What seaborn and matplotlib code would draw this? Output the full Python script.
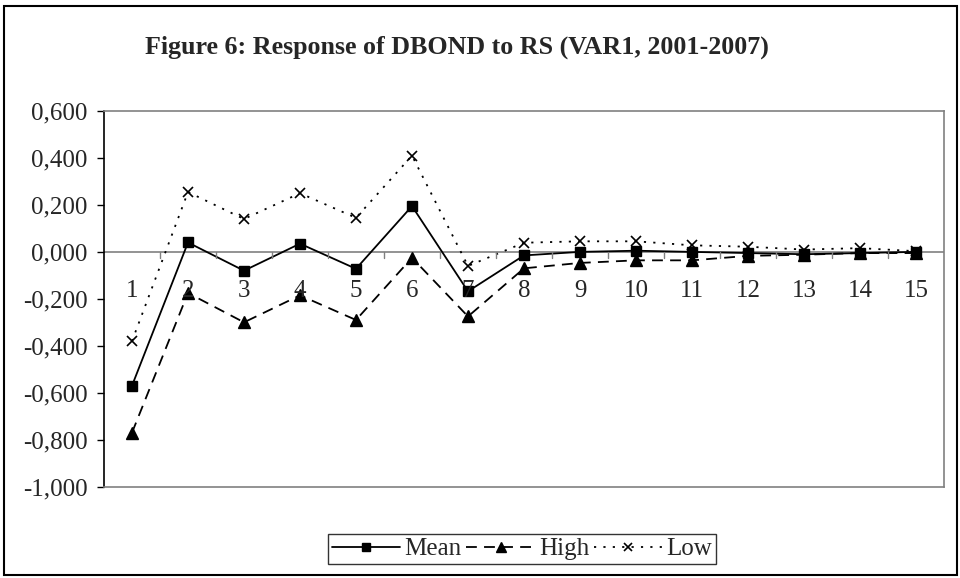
import numpy as np
import pandas as pd
import matplotlib
matplotlib.use('Agg')
import matplotlib.pyplot as plt
import seaborn as sns
from matplotlib.ticker import FuncFormatter, FixedLocator
from matplotlib.patches import Rectangle
from matplotlib.lines import Line2D

# Data
periods = list(range(1, 16))
mean_vals = [-0.570, 0.040, -0.080, 0.035, -0.072, 0.195, -0.168, -0.015,
             0.000, 0.005, 0.000, -0.005, -0.010, -0.005, 0.000]
high_vals = [-0.770, -0.175, -0.300, -0.185, -0.290, -0.025, -0.275, -0.070,
             -0.047, -0.036, -0.036, -0.017, -0.012, -0.005, -0.005]
low_vals = [-0.380, 0.255, 0.140, 0.250, 0.145, 0.410, -0.060, 0.039,
            0.045, 0.045, 0.028, 0.022, 0.010, 0.016, 0.003]
series_names = ['Mean', 'High', 'Low']
y_ticks = [0.6, 0.4, 0.2, 0.0, -0.2, -0.4, -0.6, -0.8, -1.0]

df = pd.DataFrame({'period': periods * 3,
                   'value': mean_vals + high_vals + low_vals,
                   'series': sum([[s] * len(periods) for s in series_names], [])})

sns.set_style('white')
plt.rcParams['font.family'] = ['Liberation Serif', 'DejaVu Serif']

fig = plt.figure(figsize=(9.6, 5.78), dpi=100)
ax = fig.add_axes([104 / 960, 1 - 486.7 / 578, (944 - 104) / 960, (486.7 - 111) / 578])

styles = {'Mean': dict(ls='-', marker='s', ms=7),
          'High': dict(ls=(0, (6, 4)), marker='^', ms=8),
          'Low': dict(ls=(0, (1.2, 4)), marker='x', ms=7, mew=1.2)}

for name in series_names:
    sub = df[df['series'] == name]
    st = styles[name]
    sns.lineplot(data=sub, x='period', y='value', ax=ax, color='black', lw=1.3,
                 linestyle=st['ls'], marker=st['marker'], markersize=st['ms'],
                 markeredgewidth=st.get('mew', 1), markeredgecolor='black',
                 markerfacecolor='black', legend=False)

ax.set_xlim(0.5, 15.5)
ax.set_ylim(-1.0, 0.6)
ax.set_xlabel('')
ax.set_ylabel('')

# spines: black value axis, grey plot-area border
for s in ['top', 'right', 'bottom']:
    ax.spines[s].set_color('#808080')
    ax.spines[s].set_linewidth(1.2)
ax.spines['left'].set_color('black')
ax.spines['left'].set_linewidth(1.2)
ax.axhline(0, color='#808080', lw=1.2, zorder=0.5)

# y axis
ax.yaxis.set_major_locator(FixedLocator(y_ticks))
ax.yaxis.set_major_formatter(FuncFormatter(lambda v, p: f'{v:.3f}'.replace('.', ',')))
ax.tick_params(axis='y', direction='out', length=5, width=1, color='black',
               labelsize=18, pad=7, left=True)

# category labels sit just below the zero line, ticks at category boundaries
ax.set_xticks([])
for p in periods:
    ax.text(p, -0.165, str(p), ha='center', va='center', fontsize=18)
for b in np.arange(1.5, 15.5, 1.0):
    ax.plot([b, b], [-0.025, 0.0], color='#808080', lw=1)

# title
fig.text(457 / 960, 1 - 47 / 578, 'Figure 6: Response of DBOND to RS (VAR1, 2001-2007)',
         ha='center', va='center', fontsize=18.7, fontweight='bold')

# legend
handles = [Line2D([], [], color='black', lw=1.3, linestyle=styles[n]['ls'],
                  marker=styles[n]['marker'], markersize=styles[n]['ms'] - 1,
                  markeredgewidth=styles[n].get('mew', 1)) for n in series_names]
leg = fig.legend(handles, series_names, loc='center', bbox_to_anchor=(522 / 960, 1 - 549 / 578),
                 ncol=3, frameon=True, fancybox=False, fontsize=18, handlelength=2.75,
                 columnspacing=0.2, handletextpad=0.15, borderpad=0.15, edgecolor='black')
leg.get_frame().set_linewidth(1)

# outer chart frame
fig.patches.append(Rectangle((4 / 960, 3 / 578), 953 / 960, 569 / 578, transform=fig.transFigure,
                             fill=False, edgecolor='black', lw=1.5))

fig.savefig('out.png', dpi=100)
